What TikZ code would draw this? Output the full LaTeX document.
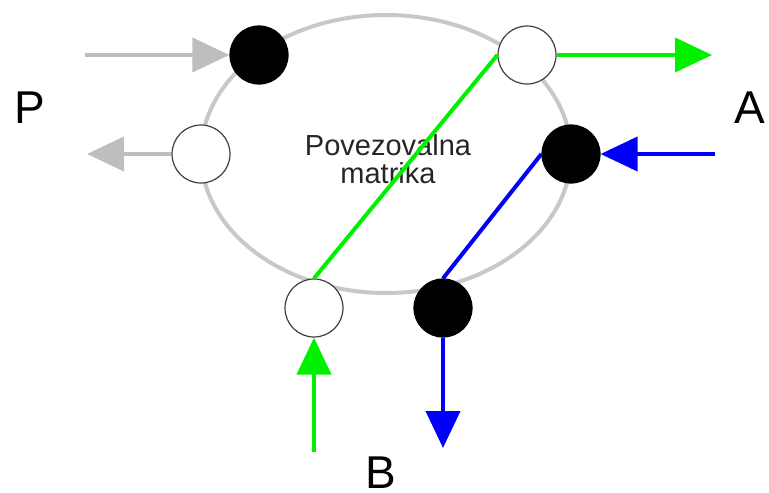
\documentclass[tikz,border=0pt]{standalone}
\usepackage{fontspec}
\setmainfont{Liberation Sans}
\usetikzlibrary{arrows.meta}

\definecolor{ringgray}{RGB}{200,200,200}
\definecolor{arrowgray}{RGB}{190,190,190}
\definecolor{linkgreen}{RGB}{0,240,0}
\definecolor{linkblue}{RGB}{0,0,250}

\tikzset{
  port/.style={circle, minimum size=58pt, inner sep=0pt, line width=1.2pt},
  blackport/.style={port, draw=black, fill=black},
  whiteport/.style={port, draw=black!75, fill=white},
  flow/.style={line width=4pt, -{Triangle[length=37pt, width=34pt]}},
  link/.style={line width=4pt},
  sidelabel/.style={font=\fontsize{46}{46}\selectfont, inner sep=0pt, anchor=base}
}

\begin{document}
\begin{tikzpicture}[x=1pt, y=-1pt]
    \useasboundingbox (0, 0) rectangle (769, 493);

    % Ring
    \draw[ringgray, line width=4pt] (386, 154) ellipse (185 and 139);
    \node[font=\fontsize{29}{28}\selectfont, align=center, text=black!85] (matrix) at (388, 159) {Povezovalna\\matrika};

    % Ports
    \node[blackport] (pin)  at (259, 55) {};
    \node[whiteport] (pout) at (201, 154) {};
    \node[whiteport] (aout) at (527, 55) {};
    \node[blackport] (ain)  at (571, 154) {};
    \node[whiteport] (bin)  at (314, 308) {};
    \node[blackport] (bout) at (443, 308) {};

    % Free arrow ends
    \coordinate (psrc) at (85, 55);
    \coordinate (pdst) at (87, 154);
    \coordinate (adst) at (712, 55);
    \coordinate (asrc) at (715, 154);
    \coordinate (bsrc) at (314, 452);
    \coordinate (bdst) at (443, 448);

    % Arrows
    \draw[flow, arrowgray] (psrc) -- (pin.west);
    \draw[flow, arrowgray] (pout.west) -- (pdst);
    \draw[flow, linkgreen] (aout.east) -- (adst);
    \draw[flow, linkblue] (asrc) -- (ain.east);
    \draw[flow, linkgreen] (bsrc) -- (bin.south);
    \draw[flow, linkblue] (bout.south) -- (bdst);

    % Links through the matrix
    \draw[link, linkgreen] (aout.west) -- (bin.north);
    \draw[link, linkblue] (ain.west) -- (bout.north);

    % Labels
    \node[sidelabel] (plabel) at (30, 123) {P};
    \node[sidelabel] (alabel) at (750, 123) {A};
    \node[sidelabel] (blabel) at (381, 488) {B};

\end{tikzpicture}
\end{document}
